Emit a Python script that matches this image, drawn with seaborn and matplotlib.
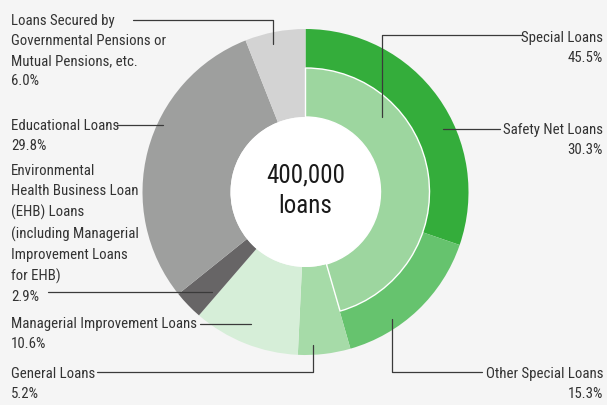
import matplotlib
matplotlib.use("Agg")
import matplotlib.pyplot as plt
from matplotlib.patches import Circle
import seaborn as sns

# Loan portfolio breakdown (share of 400,000 loans, %)
outer_labels = ["Safety Net Loans", "Other Special Loans", "General Loans",
                "Managerial Improvement Loans", "EHB Loans", "Educational Loans",
                "Pension-secured Loans"]
outer_values = [30.3, 15.3, 5.2, 10.6, 2.9, 29.8, 6.0]
outer_colors = ["#34ad3b", "#66c36e", "#a6dba8", "#d6eed8", "#676566", "#9e9f9e", "#d3d3d3"]

special_share = 45.5
special_color = "#9dd69f"
total_loans = "400,000"

sns.set_style("white")
plt.rcParams["font.family"] = ["Roboto Condensed", "Roboto", "DejaVu Sans"]

W, H = 607, 405
fig = plt.figure(figsize=(W / 100, H / 100), dpi=100)
bg = "#f5f5f5"
fig.patch.set_facecolor(bg)
ax = fig.add_axes([0, 0, 1, 1])
ax.set_facecolor(bg)


def Y(y):
    return H - y


cx, cy = 305.5, Y(192)
r_out, r_mid, r_hole = 163, 124, 75

# full-depth outer ring
ax.pie(outer_values, colors=outer_colors, radius=r_out, center=(cx, cy),
       startangle=90, counterclock=False,
       wedgeprops=dict(width=r_out - r_hole, linewidth=0), frame=True)

# inner ring: Special Loans total
wedges, _ = ax.pie([special_share, 100 - special_share], colors=[special_color, "none"],
                   radius=r_mid, center=(cx, cy), startangle=90, counterclock=False,
                   wedgeprops=dict(width=r_mid - r_hole, linewidth=1.0, edgecolor="white"),
                   frame=True)
wedges[1].set_edgecolor("none")

ax.add_patch(Circle((cx, cy), r_hole, facecolor="white", edgecolor="none", zorder=3))
ax.text(cx, Y(176), total_loans, ha="center", va="center", fontsize=18,
        color="#1a1a1a", zorder=4)
ax.text(cx, Y(206), "loans", ha="center", va="center", fontsize=18,
        color="#1a1a1a", zorder=4)

ax.set_xlim(0, W)
ax.set_ylim(0, H)
ax.set_aspect("equal")
ax.axis("off")

txt = dict(fontsize=10.7, color="#333", linespacing=1.56)
lc = dict(color="#3a3a3a", linewidth=0.9, zorder=5)

# left labels
ax.text(11, Y(14), "Loans Secured by\nGovernmental Pensions or\nMutual Pensions, etc.\n6.0%",
        ha="left", va="top", **txt)
ax.plot([133, 273, 273], [Y(20), Y(20), Y(44)], **lc)

ax.text(11, Y(119), "Educational Loans\n29.8%", ha="left", va="top", **txt)
ax.plot([117, 163], [Y(125), Y(125)], **lc)

ax.text(11, Y(164), "Environmental\nHealth Business Loan\n(EHB) Loans\n(including Managerial\n"
        "Improvement Loans\nfor EHB)\n2.9%", ha="left", va="top", **txt)
ax.plot([48, 212], [Y(292), Y(292)], **lc)

ax.text(11, Y(317), "Managerial Improvement Loans\n10.6%", ha="left", va="top", **txt)
ax.plot([200, 251], [Y(324), Y(324)], **lc)

ax.text(11, Y(367), "General Loans\n5.2%", ha="left", va="top", **txt)
ax.plot([97, 313, 313], [Y(372), Y(372), Y(345)], **lc)

# right labels
ax.text(603, Y(31), "Special Loans\n45.5%", ha="right", va="top", multialignment="right", **txt)
ax.plot([382, 382, 522], [Y(117), Y(35), Y(35)], **lc)

ax.text(603, Y(123), "Safety Net Loans\n30.3%", ha="right", va="top", multialignment="right", **txt)
ax.plot([443, 500], [Y(129), Y(129)], **lc)

ax.text(603, Y(367), "Other Special Loans\n15.3%", ha="right", va="top", multialignment="right", **txt)
ax.plot([392, 392, 482], [Y(319), Y(372), Y(372)], **lc)

fig.savefig("out.png", dpi=100, facecolor=bg)
